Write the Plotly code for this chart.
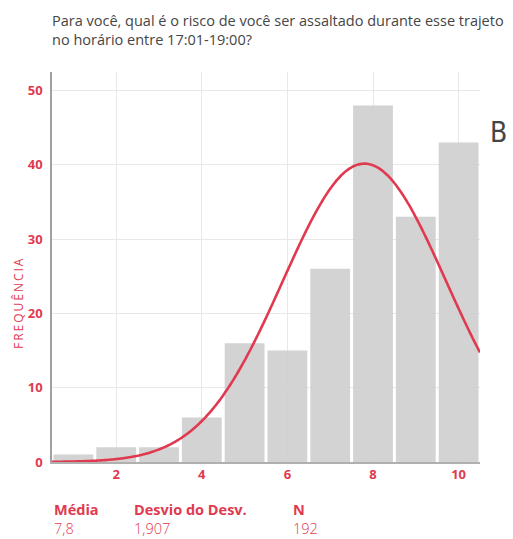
import numpy as np
import plotly.graph_objects as go

# Histogram of perceived risk (scale 1-10), 17:01-19:00
scores = [1, 2, 3, 4, 5, 6, 7, 8, 9, 10]
counts = [1, 2, 2, 6, 16, 15, 26, 48, 33, 43]

mean_label = "7,8"
sd_label = "1,907"
n_label = "192"
mean_val = 7.8
sd_val = 1.907
n_val = 192

x_ticks = [2, 4, 6, 8, 10]
y_ticks = [0, 10, 20, 30, 40, 50]

RED = "#e03a50"
GREY_BAR = "#d0d0d0"
TEXT = "#454545"
FONT = "'Open Sans', 'Noto Sans', sans-serif"

# Fitted normal curve scaled to counts (bin width 1)
xs = np.linspace(0.5, 10.5, 300)
ys = n_val / (sd_val * np.sqrt(2 * np.pi)) * np.exp(-0.5 * ((xs - mean_val) / sd_val) ** 2)

fig = go.Figure()
fig.add_trace(go.Bar(
    x=scores, y=counts, width=0.93,
    marker=dict(color=GREY_BAR, line=dict(width=0)),
    opacity=0.92, hoverinfo="skip",
))
fig.add_trace(go.Scatter(
    x=xs, y=ys, mode="lines",
    line=dict(color=RED, width=2.6, shape="spline"),
    hoverinfo="skip",
))

fig.update_layout(
    width=513, height=539,
    margin=dict(l=52, r=33, t=72, b=77),
    paper_bgcolor="white", plot_bgcolor="white",
    showlegend=False,
    font=dict(family=FONT, color=TEXT),
)
fig.update_xaxes(
    range=[0.5, 10.5], tickvals=x_ticks, ticktext=[str(v) for v in x_ticks],
    showgrid=True, gridcolor="#e8e8e8", gridwidth=1,
    showline=True, linecolor="#b0b0b0", linewidth=1.5,
    ticks="", ticklen=0,
    tickfont=dict(family=FONT, size=13, color=RED, weight="bold"),
    zeroline=False,
)
fig.update_yaxes(
    range=[0, 52.5], tickvals=y_ticks, ticktext=[str(v) for v in y_ticks],
    showgrid=True, gridcolor="#e8e8e8", gridwidth=1,
    showline=True, linecolor="#a0a0a0", linewidth=1.5,
    ticks="", ticklabelstandoff=5,
    tickfont=dict(family=FONT, size=13, color=RED, weight="bold"),
    zeroline=False,
)

anns = []
# Question text
anns.append(dict(
    text="Para você, qual é o risco de você ser assaltado durante esse trajeto<br>no horário entre 17:01-19:00?",
    xref="paper", yref="paper", x=0, y=1.0, xshift=-2, yshift=63,
    xanchor="left", yanchor="top", align="left", showarrow=False,
    font=dict(family=FONT, size=14.5, color=TEXT),
))
# Panel letter
anns.append(dict(
    text="B", xref="paper", yref="paper", x=1.0, y=0.845, xshift=8,
    xanchor="left", yanchor="middle", showarrow=False,
    font=dict(family="'Liberation Sans Narrow', 'DejaVu Sans Condensed', sans-serif", size=28, color=TEXT),
))
# Vertical axis title
anns.append(dict(
    text="F\u2009R\u2009E\u2009Q\u2009U\u2009Ê\u2009N\u2009C\u2009I\u2009A",
    xref="paper", yref="paper", x=0, xshift=-34, y=0.405,
    xanchor="center", yanchor="middle", textangle=-90, showarrow=False,
    font=dict(family=FONT, size=12, color=RED),
))
# Summary statistics: bold heading with value below
for xpix, head, val in [(52, "Média", mean_label), (132, "Desvio do Desv.", sd_label), (291, "N", n_label)]:
    xp = (xpix - 52) / (513 - 52 - 33)
    anns.append(dict(
        text="<b>" + head + "</b><br><span style='font-weight:300'>" + val + "</span>",
        xref="paper", yref="paper", x=xp, y=0, yshift=-36,
        xanchor="left", yanchor="top", align="left", showarrow=False,
        font=dict(family=FONT, size=14.5, color=RED),
    ))
fig.update_layout(annotations=anns)

fig.write_html("out.html")
